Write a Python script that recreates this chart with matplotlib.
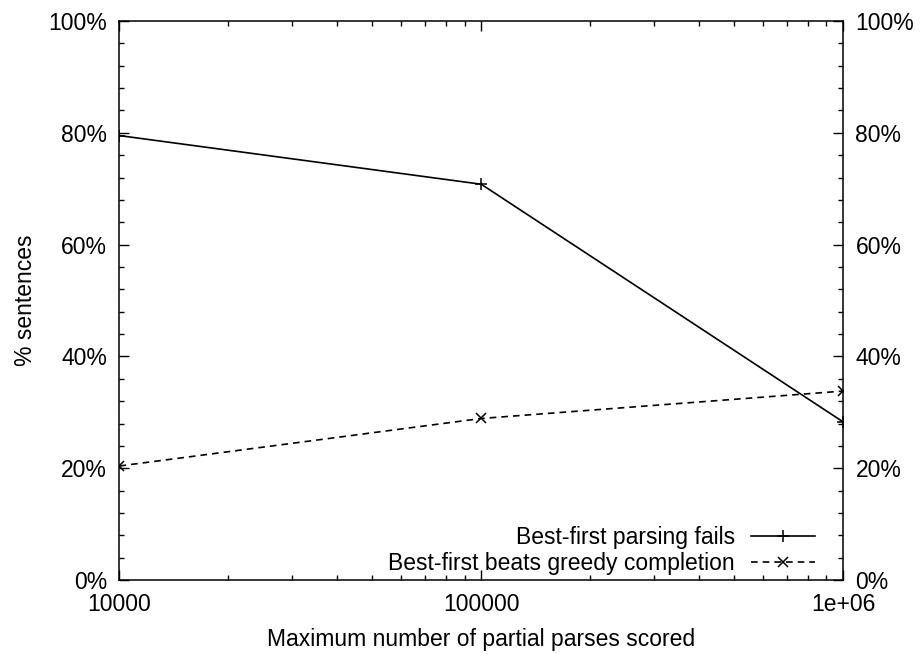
import matplotlib
matplotlib.use("Agg")
import matplotlib.pyplot as plt
from matplotlib.ticker import MultipleLocator, LogLocator, NullFormatter, FuncFormatter

plt.rcParams['font.family'] = ['Liberation Sans', 'DejaVu Sans']
plt.rcParams['font.size'] = 16.5

# data
max_parses = [10000, 100000, 1000000]
fails_pct = [79.5, 70.8, 28.3]
beats_greedy_pct = [20.4, 28.9, 33.8]
x_tick_labels = ['10000', '100000', '1e+06']

fig = plt.figure(figsize=(9.22, 6.54), dpi=100)
ax = fig.add_axes([0.1296, 0.1131, 0.9143 - 0.1296, 0.9679 - 0.1131])

ax.plot(max_parses, fails_pct, color='black', lw=1.2, marker='+', ms=8, mew=1.1,
        label='Best-first parsing fails')
ax.plot(max_parses, beats_greedy_pct, color='black', lw=1.2, ls=(0, (4, 3)), marker='x',
        ms=7, mew=1.1, label='Best-first beats greedy completion')

ax.set_xscale('log')
ax.set_xlim(10000, 1000000)
ax.set_ylim(0, 100)

ax.set_xticks(max_parses, x_tick_labels)
ax.xaxis.set_minor_locator(LogLocator(base=10, subs=range(2, 10)))
ax.xaxis.set_minor_formatter(NullFormatter())

ax.yaxis.set_major_locator(MultipleLocator(20))
ax.yaxis.set_minor_locator(MultipleLocator(4))
ax.yaxis.set_major_formatter(FuncFormatter(lambda v, p: f'{v:.0f}%'))

ax.tick_params(which='both', direction='in', top=True, right=True, labelright=True,
               width=1.0, labelsize=16.5)
ax.tick_params(which='major', length=7, pad=9)
ax.tick_params(which='minor', length=3.5)
for s in ax.spines.values():
    s.set_linewidth(1.1)

ax.set_xlabel('Maximum number of partial parses scored', fontsize=16.5, labelpad=9)
ax.set_ylabel('% sentences', fontsize=16.5, labelpad=8)

ax.legend(loc='lower right', markerfirst=False, frameon=False, fontsize=16.5,
          handlelength=2.8, handletextpad=0.7, labelspacing=0.12,
          borderaxespad=0.0, bbox_to_anchor=(0.974, -0.007))

fig.savefig('out.png', dpi=100)
